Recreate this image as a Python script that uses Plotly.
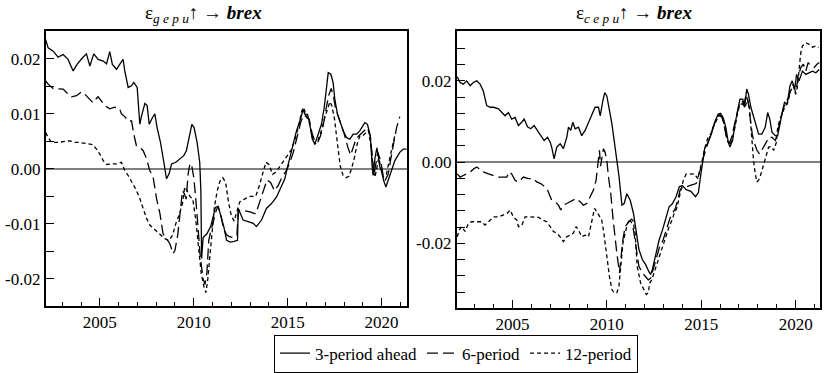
import plotly.graph_objects as go

# ---------------- data (year, value) ----------------
left_3period = [
    (2002.12, 0.0235), (2002.25, 0.0220), (2002.52, 0.0214), (2002.78, 0.0203), (2003.05, 0.0208),
    (2003.31, 0.0199), (2003.58, 0.0178), (2003.79, 0.0190), (2004.08, 0.0202), (2004.29, 0.0209),
    (2004.47, 0.0187), (2004.68, 0.0209), (2004.91, 0.0199), (2005.18, 0.0196), (2005.36, 0.0191),
    (2005.53, 0.0213), (2005.67, 0.0190), (2005.89, 0.0181), (2006.06, 0.0190), (2006.24, 0.0199),
    (2006.33, 0.0178), (2006.51, 0.0148), (2006.69, 0.0151), (2006.81, 0.0157), (2006.99, 0.0148),
    (2007.13, 0.0081), (2007.22, 0.0096), (2007.40, 0.0119), (2007.52, 0.0115), (2007.63, 0.0081),
    (2007.80, 0.0093), (2007.93, 0.0100), (2008.05, 0.0075), (2008.23, 0.0048), (2008.41, 0.0012),
    (2008.55, -0.0018), (2008.69, -0.0009), (2008.82, 0.0009), (2009.05, 0.0012), (2009.26, 0.0018),
    (2009.47, 0.0024), (2009.61, 0.0033), (2009.76, 0.0057), (2009.90, 0.0081), (2010.02, 0.0075),
    (2010.18, 0.0048), (2010.32, 0.0012), (2010.38, -0.0040), (2010.42, -0.0163), (2010.50, -0.0125),
    (2010.70, -0.0118), (2010.90, -0.0105), (2011.05, -0.0085), (2011.15, -0.0070), (2011.30, -0.0068),
    (2011.45, -0.0085), (2011.60, -0.0105), (2011.75, -0.0130), (2011.95, -0.0133), (2012.15, -0.0132),
    (2012.33, -0.0130), (2012.37, -0.0072), (2012.63, -0.0093), (2012.90, -0.0096), (2013.17, -0.0099),
    (2013.34, -0.0105), (2013.61, -0.0093), (2013.87, -0.0072), (2014.14, -0.0063), (2014.41, -0.0051),
    (2014.67, -0.0033), (2014.85, -0.0018), (2014.97, 0.0000), (2015.12, 0.0021), (2015.29, 0.0048),
    (2015.47, 0.0069), (2015.65, 0.0087), (2015.83, 0.0108), (2015.92, 0.0099), (2016.06, 0.0099),
    (2016.18, 0.0081), (2016.31, 0.0054), (2016.45, 0.0045), (2016.63, 0.0063), (2016.80, 0.0081),
    (2016.95, 0.0112), (2017.16, 0.0175), (2017.30, 0.0172), (2017.42, 0.0157), (2017.51, 0.0127),
    (2017.65, 0.0100), (2017.78, 0.0087), (2017.96, 0.0069), (2018.13, 0.0057), (2018.31, 0.0054),
    (2018.49, 0.0063), (2018.67, 0.0063), (2018.84, 0.0069), (2019.11, 0.0084), (2019.25, 0.0081),
    (2019.40, 0.0060), (2019.50, 0.0005), (2019.55, -0.0012), (2019.65, 0.0020), (2019.75, 0.0038),
    (2019.82, 0.0025), (2019.90, 0.0005), (2020.00, -0.0005), (2020.10, -0.0020), (2020.23, -0.0033),
    (2020.35, -0.0020), (2020.53, -0.0003), (2020.71, 0.0015), (2020.97, 0.0030), (2021.15, 0.0036),
    (2021.33, 0.0036),
]
left_6period = [
    (2002.12, 0.0160), (2002.25, 0.0154), (2002.52, 0.0146), (2002.78, 0.0145), (2003.05, 0.0145),
    (2003.31, 0.0136), (2003.49, 0.0131), (2003.76, 0.0133), (2004.02, 0.0140), (2004.20, 0.0136),
    (2004.38, 0.0130), (2004.64, 0.0120), (2004.82, 0.0128), (2004.91, 0.0131), (2005.27, 0.0115),
    (2005.53, 0.0109), (2005.80, 0.0112), (2006.06, 0.0109), (2006.15, 0.0100), (2006.33, 0.0095),
    (2006.51, 0.0087), (2006.69, 0.0087), (2006.81, 0.0063), (2006.95, 0.0042), (2007.13, 0.0039),
    (2007.31, 0.0033), (2007.49, 0.0018), (2007.66, -0.0003), (2007.84, -0.0015), (2008.02, -0.0054),
    (2008.20, -0.0081), (2008.37, -0.0118), (2008.55, -0.0127), (2008.73, -0.0136), (2008.90, -0.0154),
    (2009.00, -0.0148), (2009.15, -0.0120), (2009.30, -0.0075), (2009.40, -0.0040), (2009.50, -0.0045),
    (2009.60, -0.0055), (2009.70, -0.0010), (2009.80, 0.0010), (2009.90, 0.0005), (2010.00, -0.0015),
    (2010.10, -0.0050), (2010.20, -0.0100), (2010.35, -0.0160), (2010.50, -0.0200), (2010.60, -0.0210),
    (2010.70, -0.0190), (2010.80, -0.0130), (2010.90, -0.0115), (2011.05, -0.0095), (2011.20, -0.0075),
    (2011.30, -0.0068), (2011.45, -0.0085), (2011.60, -0.0110), (2011.75, -0.0120), (2011.90, -0.0123),
    (2012.10, -0.0125), (2012.30, -0.0120), (2012.38, -0.0075), (2012.70, -0.0076), (2013.00, -0.0078),
    (2013.30, -0.0082), (2013.50, -0.0060), (2013.70, -0.0040), (2013.90, -0.0020), (2014.10, -0.0025),
    (2014.30, -0.0040), (2014.50, -0.0030), (2014.70, -0.0015), (2014.90, -0.0005), (2015.10, 0.0010),
    (2015.30, 0.0030), (2015.50, 0.0060), (2015.70, 0.0085), (2015.85, 0.0098), (2016.00, 0.0095),
    (2016.15, 0.0090), (2016.30, 0.0065), (2016.45, 0.0050), (2016.60, 0.0048), (2016.75, 0.0060),
    (2016.90, 0.0080), (2017.05, 0.0110), (2017.20, 0.0135), (2017.32, 0.0146), (2017.45, 0.0130),
    (2017.55, 0.0110), (2017.70, 0.0095), (2017.85, 0.0080), (2018.00, 0.0065), (2018.20, 0.0040),
    (2018.35, 0.0025), (2018.50, 0.0040), (2018.65, 0.0055), (2018.85, 0.0062), (2019.05, 0.0068),
    (2019.25, 0.0075), (2019.40, 0.0060), (2019.50, 0.0025), (2019.60, -0.0010), (2019.70, 0.0010),
    (2019.80, 0.0030), (2019.95, 0.0015), (2020.10, -0.0015), (2020.20, -0.0020), (2020.35, -0.0010),
    (2020.50, 0.0020), (2020.65, 0.0050), (2020.80, 0.0075), (2020.97, 0.0095),
]
left_12period = [
    (2002.12, 0.0066), (2002.25, 0.0057), (2002.43, 0.0048), (2002.78, 0.0048), (2003.14, 0.0050),
    (2003.40, 0.0051), (2003.67, 0.0048), (2003.93, 0.0048), (2004.29, 0.0046), (2004.64, 0.0044),
    (2004.82, 0.0036), (2005.00, 0.0027), (2005.18, 0.0015), (2005.36, 0.0008), (2005.62, 0.0009),
    (2005.89, 0.0009), (2006.15, 0.0012), (2006.33, -0.0003), (2006.51, -0.0012), (2006.78, -0.0027),
    (2006.95, -0.0039), (2007.13, -0.0054), (2007.31, -0.0072), (2007.49, -0.0090), (2007.66, -0.0102),
    (2007.93, -0.0111), (2008.20, -0.0120), (2008.46, -0.0127), (2008.69, -0.0130), (2008.87, -0.0121),
    (2009.05, -0.0099), (2009.22, -0.0084), (2009.40, -0.0063), (2009.52, -0.0033), (2009.65, -0.0040),
    (2009.80, -0.0050), (2009.95, -0.0055), (2010.10, -0.0090), (2010.25, -0.0140), (2010.40, -0.0190),
    (2010.55, -0.0215), (2010.65, -0.0225), (2010.75, -0.0200), (2010.85, -0.0160), (2010.95, -0.0120),
    (2011.10, -0.0070), (2011.25, -0.0040), (2011.40, -0.0022), (2011.55, -0.0016), (2011.70, -0.0025),
    (2011.85, -0.0060), (2012.00, -0.0085), (2012.15, -0.0095), (2012.30, -0.0075), (2012.45, -0.0060),
    (2012.70, -0.0055), (2013.00, -0.0050), (2013.30, -0.0050), (2013.50, -0.0030), (2013.70, -0.0005),
    (2013.85, 0.0012), (2014.00, 0.0008), (2014.20, -0.0010), (2014.40, -0.0005), (2014.60, 0.0005),
    (2014.80, 0.0015), (2015.00, 0.0025), (2015.20, 0.0035), (2015.40, 0.0055), (2015.60, 0.0080),
    (2015.75, 0.0105), (2015.85, 0.0112), (2016.00, 0.0095), (2016.15, 0.0085), (2016.30, 0.0060),
    (2016.45, 0.0045), (2016.60, 0.0050), (2016.80, 0.0070), (2016.95, 0.0090), (2017.10, 0.0105),
    (2017.25, 0.0122), (2017.35, 0.0115), (2017.50, 0.0090), (2017.60, 0.0060), (2017.70, 0.0030),
    (2017.80, 0.0005), (2017.95, -0.0012), (2018.10, -0.0016), (2018.25, -0.0014), (2018.40, 0.0000),
    (2018.55, 0.0020), (2018.70, 0.0045), (2018.85, 0.0060), (2019.00, 0.0060), (2019.15, 0.0065),
    (2019.30, 0.0070), (2019.45, 0.0040), (2019.55, 0.0000), (2019.65, -0.0015), (2019.75, 0.0005),
    (2019.85, 0.0020), (2019.95, 0.0005), (2020.10, -0.0015), (2020.25, -0.0010), (2020.40, 0.0015),
    (2020.55, 0.0040), (2020.70, 0.0060),
]
right_3period = [
    (2002.08, 0.0210), (2002.23, 0.0196), (2002.40, 0.0192), (2002.58, 0.0200), (2002.76, 0.0188),
    (2002.93, 0.0196), (2003.11, 0.0200), (2003.29, 0.0192), (2003.46, 0.0175), (2003.64, 0.0139),
    (2003.82, 0.0135), (2004.00, 0.0135), (2004.26, 0.0131), (2004.43, 0.0122), (2004.61, 0.0114),
    (2004.79, 0.0122), (2004.96, 0.0106), (2005.14, 0.0110), (2005.32, 0.0090), (2005.49, 0.0098),
    (2005.62, 0.0106), (2005.80, 0.0087), (2005.97, 0.0082), (2006.15, 0.0090), (2006.33, 0.0078),
    (2006.50, 0.0065), (2006.68, 0.0053), (2006.86, 0.0061), (2007.00, 0.0049), (2007.08, 0.0037),
    (2007.21, 0.0008), (2007.35, 0.0037), (2007.53, 0.0045), (2007.70, 0.0033), (2007.88, 0.0061),
    (2007.97, 0.0086), (2008.09, 0.0078), (2008.20, 0.0098), (2008.32, 0.0082), (2008.50, 0.0086),
    (2008.67, 0.0065), (2008.85, 0.0078), (2009.03, 0.0098), (2009.20, 0.0118), (2009.38, 0.0135),
    (2009.56, 0.0135), (2009.65, 0.0114), (2009.79, 0.0151), (2009.89, 0.0171), (2010.00, 0.0163),
    (2010.14, 0.0131), (2010.27, 0.0094), (2010.39, 0.0053), (2010.53, 0.0004), (2010.65, -0.0037),
    (2010.80, -0.0106), (2010.92, -0.0102), (2011.06, -0.0078), (2011.24, -0.0094), (2011.41, -0.0126),
    (2011.55, -0.0170), (2011.70, -0.0215), (2011.88, -0.0240), (2012.05, -0.0252), (2012.23, -0.0270),
    (2012.32, -0.0277), (2012.41, -0.0265), (2012.59, -0.0224), (2012.77, -0.0192), (2012.95, -0.0167),
    (2013.13, -0.0135), (2013.30, -0.0110), (2013.48, -0.0102), (2013.66, -0.0086), (2013.84, -0.0061),
    (2014.00, -0.0058), (2014.20, -0.0068), (2014.45, -0.0072), (2014.70, -0.0085), (2014.85, -0.0075),
    (2014.95, -0.0040), (2015.05, -0.0010), (2015.09, 0.0004), (2015.18, 0.0033), (2015.36, 0.0049),
    (2015.54, 0.0069), (2015.71, 0.0098), (2015.89, 0.0118), (2016.02, 0.0120), (2016.16, 0.0110),
    (2016.30, 0.0086), (2016.43, 0.0049), (2016.52, 0.0037), (2016.66, 0.0053), (2016.79, 0.0094),
    (2016.91, 0.0126), (2017.05, 0.0155), (2017.20, 0.0155), (2017.29, 0.0135), (2017.41, 0.0180),
    (2017.50, 0.0167), (2017.63, 0.0135), (2017.77, 0.0110), (2017.91, 0.0086), (2018.04, 0.0069),
    (2018.21, 0.0069), (2018.39, 0.0086), (2018.52, 0.0122), (2018.63, 0.0106), (2018.75, 0.0073),
    (2018.93, 0.0065), (2019.05, 0.0065), (2019.16, 0.0094), (2019.29, 0.0122), (2019.41, 0.0147),
    (2019.55, 0.0143), (2019.70, 0.0188), (2019.82, 0.0200), (2019.95, 0.0180), (2020.05, 0.0216),
    (2020.18, 0.0200), (2020.36, 0.0224), (2020.54, 0.0216), (2020.71, 0.0220), (2020.89, 0.0224),
    (2021.07, 0.0220), (2021.25, 0.0228),
]
right_6period = [
    (2002.08, -0.0029), (2002.23, -0.0037), (2002.40, -0.0033), (2002.58, -0.0029), (2002.76, -0.0025),
    (2002.97, -0.0016), (2003.11, -0.0012), (2003.29, -0.0018), (2003.46, -0.0024), (2003.73, -0.0029),
    (2004.00, -0.0033), (2004.26, -0.0037), (2004.52, -0.0037), (2004.70, -0.0037), (2004.84, -0.0024),
    (2004.96, -0.0029), (2005.14, -0.0045), (2005.32, -0.0049), (2005.58, -0.0037), (2005.85, -0.0041),
    (2006.11, -0.0041), (2006.29, -0.0049), (2006.50, -0.0053), (2006.73, -0.0061), (2006.86, -0.0069),
    (2007.08, -0.0094), (2007.26, -0.0098), (2007.44, -0.0106), (2007.56, -0.0118), (2007.70, -0.0106),
    (2007.88, -0.0102), (2008.02, -0.0098), (2008.20, -0.0094), (2008.37, -0.0090), (2008.59, -0.0098),
    (2008.76, -0.0106), (2008.94, -0.0102), (2009.12, -0.0086), (2009.29, -0.0069), (2009.43, -0.0045),
    (2009.52, -0.0012), (2009.61, 0.0029), (2009.67, -0.0010), (2009.73, 0.0008), (2009.82, 0.0033),
    (2009.91, 0.0024), (2010.00, 0.0004), (2010.09, -0.0037), (2010.21, -0.0078), (2010.32, -0.0135),
    (2010.42, -0.0180), (2010.53, -0.0224), (2010.67, -0.0273), (2010.74, -0.0240), (2010.85, -0.0192),
    (2010.97, -0.0159), (2011.10, -0.0151), (2011.24, -0.0143), (2011.33, -0.0151), (2011.41, -0.0167),
    (2011.52, -0.0200), (2011.70, -0.0257), (2011.88, -0.0273), (2012.05, -0.0282), (2012.20, -0.0290),
    (2012.32, -0.0286), (2012.45, -0.0265), (2012.62, -0.0233), (2012.80, -0.0208), (2012.98, -0.0192),
    (2013.16, -0.0163), (2013.34, -0.0139), (2013.48, -0.0126), (2013.63, -0.0114), (2013.75, -0.0094),
    (2013.88, -0.0069), (2014.02, -0.0061), (2014.20, -0.0061), (2014.46, -0.0057), (2014.73, -0.0053),
    (2014.88, -0.0029), (2015.00, -0.0012), (2015.09, 0.0008), (2015.27, 0.0037), (2015.45, 0.0061),
    (2015.63, 0.0086), (2015.80, 0.0106), (2015.95, 0.0117), (2016.07, 0.0114), (2016.20, 0.0094),
    (2016.34, 0.0061), (2016.48, 0.0045), (2016.61, 0.0061), (2016.73, 0.0086), (2016.88, 0.0118),
    (2017.02, 0.0143), (2017.14, 0.0151), (2017.27, 0.0143), (2017.38, 0.0167), (2017.50, 0.0143),
    (2017.59, 0.0110), (2017.70, 0.0069), (2017.80, 0.0049), (2017.95, 0.0029), (2018.09, 0.0020),
    (2018.27, 0.0033), (2018.45, 0.0049), (2018.57, 0.0061), (2018.75, 0.0061), (2018.93, 0.0053),
    (2019.05, 0.0078), (2019.20, 0.0102), (2019.34, 0.0131), (2019.46, 0.0147), (2019.59, 0.0155),
    (2019.73, 0.0175), (2019.88, 0.0192), (2020.00, 0.0171), (2020.13, 0.0208), (2020.27, 0.0233),
    (2020.41, 0.0241), (2020.54, 0.0224), (2020.66, 0.0245), (2020.80, 0.0237), (2020.98, 0.0233),
    (2021.13, 0.0241), (2021.25, 0.0245),
]
right_12period = [
    (2002.08, -0.0184), (2002.19, -0.0167), (2002.31, -0.0159), (2002.49, -0.0171), (2002.67, -0.0151),
    (2002.84, -0.0147), (2003.11, -0.0147), (2003.37, -0.0147), (2003.55, -0.0155), (2003.73, -0.0147),
    (2004.00, -0.0135), (2004.26, -0.0135), (2004.52, -0.0131), (2004.73, -0.0126), (2004.88, -0.0118),
    (2005.05, -0.0135), (2005.23, -0.0143), (2005.32, -0.0159), (2005.49, -0.0157), (2005.67, -0.0135),
    (2005.94, -0.0135), (2006.20, -0.0135), (2006.38, -0.0136), (2006.61, -0.0143), (2006.82, -0.0147),
    (2007.00, -0.0159), (2007.17, -0.0171), (2007.35, -0.0175), (2007.53, -0.0184), (2007.70, -0.0196),
    (2007.88, -0.0184), (2008.06, -0.0180), (2008.23, -0.0175), (2008.37, -0.0159), (2008.50, -0.0167),
    (2008.67, -0.0184), (2008.85, -0.0180), (2009.03, -0.0184), (2009.15, -0.0155), (2009.26, -0.0126),
    (2009.35, -0.0114), (2009.47, -0.0122), (2009.61, -0.0135), (2009.73, -0.0143), (2009.82, -0.0167),
    (2009.91, -0.0200), (2010.00, -0.0241), (2010.14, -0.0282), (2010.27, -0.0314), (2010.39, -0.0322),
    (2010.53, -0.0322), (2010.64, -0.0306), (2010.74, -0.0257), (2010.85, -0.0200), (2010.97, -0.0175),
    (2011.10, -0.0151), (2011.24, -0.0139), (2011.38, -0.0143), (2011.50, -0.0175), (2011.61, -0.0257),
    (2011.79, -0.0298), (2011.96, -0.0314), (2012.09, -0.0326), (2012.20, -0.0322), (2012.27, -0.0298),
    (2012.38, -0.0290), (2012.50, -0.0273), (2012.62, -0.0257), (2012.77, -0.0233), (2012.95, -0.0208),
    (2013.13, -0.0184), (2013.30, -0.0159), (2013.45, -0.0143), (2013.57, -0.0126), (2013.70, -0.0114),
    (2013.84, -0.0086), (2013.93, -0.0061), (2014.05, -0.0045), (2014.20, -0.0030), (2014.46, -0.0029),
    (2014.64, -0.0029), (2014.82, -0.0041), (2014.96, -0.0016), (2015.05, 0.0004), (2015.18, 0.0033),
    (2015.36, 0.0061), (2015.50, 0.0069), (2015.63, 0.0086), (2015.80, 0.0102), (2015.95, 0.0114),
    (2016.13, 0.0110), (2016.25, 0.0086), (2016.38, 0.0053), (2016.52, 0.0041), (2016.66, 0.0061),
    (2016.79, 0.0086), (2016.91, 0.0118), (2017.05, 0.0143), (2017.20, 0.0143), (2017.32, 0.0135),
    (2017.45, 0.0155), (2017.55, 0.0135), (2017.63, 0.0086), (2017.70, 0.0045), (2017.77, 0.0004),
    (2017.86, -0.0029), (2017.95, -0.0049), (2018.09, -0.0041), (2018.21, -0.0020), (2018.34, -0.0004),
    (2018.45, 0.0016), (2018.57, 0.0037), (2018.70, 0.0038), (2018.84, 0.0029), (2018.98, 0.0049),
    (2019.05, 0.0086), (2019.20, 0.0110), (2019.34, 0.0126), (2019.46, 0.0139), (2019.59, 0.0147),
    (2019.73, 0.0175), (2019.88, 0.0188), (2020.00, 0.0167), (2020.09, 0.0184), (2020.18, 0.0233),
    (2020.27, 0.0269), (2020.36, 0.0286), (2020.54, 0.0294), (2020.71, 0.0290), (2020.89, 0.0283),
    (2021.07, 0.0286), (2021.21, 0.0282),
]

series_names = ["3-period ahead", "6-period", "12-period"]
series_dash = ["solid", "11px,5px", "4px,3px"]

x_tick_vals = [2005, 2010, 2015, 2020]
x_tick_text = ["2005", "2010", "2015", "2020"]
left_y_vals = [-0.02, -0.01, 0.0, 0.01, 0.02]
left_y_text = ["-0.02", "-0.01", "0.00", "0.01", "0.02"]
right_y_vals = [-0.02, 0.0, 0.02]
right_y_text = ["-0.02", "0.00", "0.02"]

FONT = "Liberation Serif"

fig = go.Figure()

left_sets = [left_3period, left_6period, left_12period]
right_sets = [right_3period, right_6period, right_12period]
for i, pts in enumerate(left_sets):
    fig.add_trace(go.Scatter(
        x=[p[0] for p in pts], y=[p[1] for p in pts], mode="lines",
        name=series_names[i], showlegend=True, xaxis="x", yaxis="y",
        line=dict(color="black", width=1.3, dash=series_dash[i])))
for i, pts in enumerate(right_sets):
    fig.add_trace(go.Scatter(
        x=[p[0] for p in pts], y=[p[1] for p in pts], mode="lines",
        name=series_names[i], showlegend=False, xaxis="x2", yaxis="y2",
        line=dict(color="black", width=1.3, dash=series_dash[i])))

W, H = 829, 373

def xax(domain, rng, anchor):
    return dict(domain=domain, range=rng, anchor=anchor, showgrid=False, zeroline=False,
                showline=True, mirror=True, linecolor="black", linewidth=1.6,
                ticks="inside", ticklen=8, tickwidth=1.2, tickcolor="black",
                tickmode="array", tickvals=x_tick_vals, ticktext=x_tick_text,
                minor=dict(ticks="inside", ticklen=4, tickwidth=1.2, tickcolor="black",
                           tick0=2000, dtick=1, showgrid=False),
                tickfont=dict(family=FONT, size=17, color="black"))

def yax(domain, rng, vals, text, minor_step, anchor):
    return dict(domain=domain, range=rng, anchor=anchor, showgrid=False,
                zeroline=True, zerolinecolor="#7f7f7f", zerolinewidth=1.5,
                showline=True, mirror=True, linecolor="black", linewidth=1.6,
                ticks="inside", ticklen=8, tickwidth=1.2, tickcolor="black",
                tickmode="array", tickvals=vals, ticktext=text,
                minor=dict(ticks="inside", ticklen=8, tickwidth=1.2, tickcolor="black",
                           tick0=0, dtick=minor_step, showgrid=False),
                tickfont=dict(family=FONT, size=17, color="black"))

fig.update_layout(
    width=W, height=H,
    margin=dict(l=0, r=0, t=0, b=0),
    paper_bgcolor="white", plot_bgcolor="white",
    font=dict(family=FONT, size=16, color="black"),
    xaxis=xax([45.7 / W, 407.3 / W], [2002.12, 2021.37], "y"),
    yaxis=yax([1 - 307.5 / H, 1 - 31.5 / H], [-0.0249, 0.025], left_y_vals, left_y_text, 0.005, "x"),
    xaxis2=xax([456.7 / W, 820.0 / W], [2002.05, 2021.29], "y2"),
    yaxis2=yax([1 - 309.5 / H, 1 - 31.5 / H], [-0.0359, 0.0322], right_y_vals, right_y_text, 0.004, "x2"),
    legend=dict(orientation="h", x=456 / W, y=1 - 355.5 / H, xanchor="center", yanchor="middle",
                bordercolor="black", borderwidth=1, bgcolor="white",
                font=dict(family=FONT, size=17, color="black"),
                itemwidth=30, tracegroupgap=0),
    showlegend=True,
)

titles = [
    ("\u03b5<sub><i>g e p u</i></sub>\u2191 \u2192 <b><i>brex</i></b>", 203 / W),
    ("\u03b5<sub><i>c e p u</i></sub>\u2191 \u2192 <b><i>brex</i></b>", 634 / W),
]
for text, xp in titles:
    fig.add_annotation(text=text, xref="paper", yref="paper", x=xp, y=1 - 14 / H,
                       xanchor="center", yanchor="middle", showarrow=False,
                       font=dict(family=FONT, size=19, color="black"))

fig.write_html("out.html", config={"displayModeBar": False},
               post_script="document.body.style.margin='0';document.body.style.padding='0';")
